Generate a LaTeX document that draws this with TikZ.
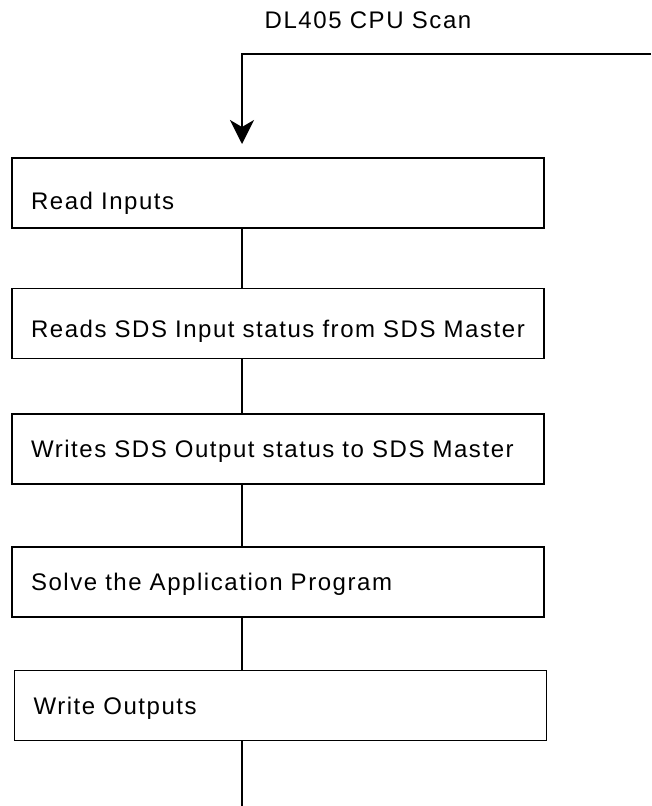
\documentclass[tikz,border=0pt]{standalone}
\usepackage{fontspec}
\setmainfont{Liberation Sans}[LetterSpace=6.5]
\usetikzlibrary{positioning, arrows.meta}
\tikzset{
    scanbox/.style={draw, minimum height=70pt, text width=494pt, inner xsep=19pt, align=left, font=\fontsize{24}{28}\selectfont, text height=17.2pt, text depth=0pt}, % one step of the scan
    lowered/.style={text height=#1}, % pushes the text down in its box
    >={Stealth[length=24pt, width=24pt, inset=7pt]}, % big filled arrow head
}

\begin{document}
\begin{tikzpicture}[x=1pt, y=-1pt, line width=1.6pt]
    \useasboundingbox (0,0) rectangle (651,806);
    \node[font=\fontsize{24}{28}\selectfont, anchor=base] (title) at (368,28) {DL405 CPU Scan};
    \node[scanbox, lowered=33.2pt] (read) at (278,193) {Read Inputs};
    \node[scanbox, lowered=27.2pt, below=59pt of read] (sdsin) {Reads SDS Input status from SDS Master};
    \node[scanbox, below=54pt of sdsin] (sdsout) {Writes SDS Output status to SDS Master};
    \node[scanbox, below=61pt of sdsout] (solve) {Solve the Application Program};
    \node[scanbox, below=52pt of solve, xshift=2.5pt] (write) {Write Outputs};
    \coordinate (spine) at (242,0);
    \coordinate (loop) at (651,54);
    \coordinate (entry) at (242,144);
    \coordinate (exit) at (242,806);
    \draw[->] (loop) -| (entry);
    \foreach \a/\b in {read/sdsin, sdsin/sdsout, sdsout/solve, solve/write}
        \draw (\a.south -| spine) -- (\b.north -| spine);
    \draw (write.south -| spine) -- (exit);
\end{tikzpicture}
\end{document}
